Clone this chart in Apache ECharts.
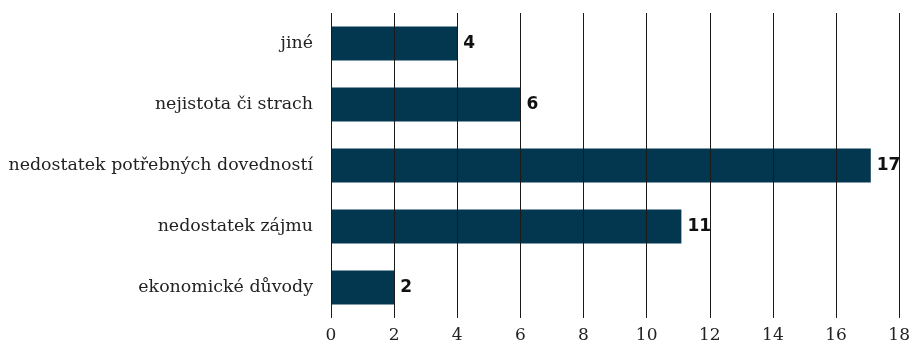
<!DOCTYPE html>
<html>
<head>
<meta charset="utf-8">
<script src="https://cdn.jsdelivr.net/npm/echarts@6/dist/echarts.min.js"></script>
<style>
  html, body { margin: 0; padding: 0; background: #fff; }
  #root { width: 913px; height: 350px; }
</style>
</head>
<body>
<div id="root"></div>
<script>
  // bottom to top, as the category axis draws them
  var categories = ['ekonomické důvody', 'nedostatek zájmu', 'nedostatek potřebných dovedností', 'nejistota či strach', 'jiné'];
  var values = [2, 11.1, 17.1, 6, 4];
  var xTicks = [0, 2, 4, 6, 8, 10, 12, 14, 16, 18];

  var chart = echarts.init(document.getElementById('root'));
  chart.setOption({
    animation: false,
    grid: { left: 331, right: 13, top: 13, bottom: 32 },
    xAxis: {
      type: 'value',
      min: xTicks[0],
      max: xTicks[xTicks.length - 1],
      interval: 2,
      z: 5,
      axisLine: { show: false },
      axisTick: { show: false },
      splitLine: { show: true, lineStyle: { color: '#1a1a1a', width: 1 } },
      axisLabel: { color: '#222', fontFamily: 'DejaVu Serif', fontSize: 17, margin: 9 }
    },
    yAxis: {
      type: 'category',
      data: categories,
      axisLine: { show: false },
      axisTick: { show: false },
      axisLabel: { color: '#222', fontFamily: 'DejaVu Serif', fontSize: 17.4, margin: 18 }
    },
    series: [{
      type: 'bar',
      data: values,
      barWidth: 34,
      itemStyle: { color: '#033750' },
      label: {
        show: true,
        position: 'right',
        distance: 6,
        color: '#111',
        fontFamily: 'DejaVu Sans',
        fontWeight: 'bold',
        fontSize: 17,
        formatter: function (p) { return Math.round(p.value); }
      }
    }]
  });
</script>
</body>
</html>
